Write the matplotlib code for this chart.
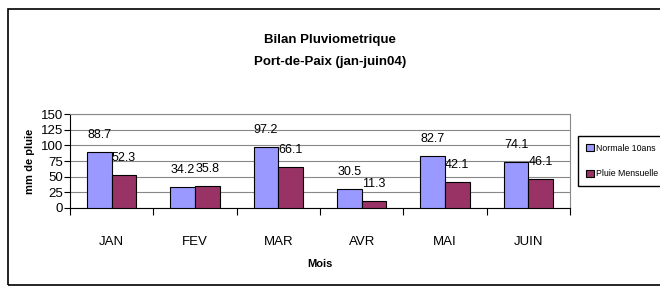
import numpy as np
import matplotlib
matplotlib.use("Agg")
import matplotlib.pyplot as plt
from matplotlib.patches import Rectangle

months = ['JAN', 'FEV', 'MAR', 'AVR', 'MAI', 'JUIN']
normale = [88.7, 34.2, 97.2, 30.5, 82.7, 74.1]
pluie = [52.3, 35.8, 66.1, 11.3, 42.1, 46.1]
series_names = ['Normale 10ans', 'Pluie Mensuelle']
yticks = [0, 25, 50, 75, 100, 125, 150]


def main():
    plt.rcParams['font.family'] = ['Liberation Sans', 'DejaVu Sans']

    fig = plt.figure(figsize=(6.6, 2.87), dpi=100)
    W, H = 660, 287

    # outer chart border
    fig.patches.append(Rectangle((8 / W, 1 - 285 / H), 700 / W, 276 / H,
                                 transform=fig.transFigure, fill=False,
                                 edgecolor='black', linewidth=1.2))

    ax = fig.add_axes([70 / W, 1 - 208 / H, 500 / W, 94 / H])

    x = np.arange(len(months)) + 0.5
    w = 0.295
    b1 = ax.bar(x - w / 2, normale, w, color='#9999FF', edgecolor='black',
                linewidth=0.8, label=series_names[0], zorder=3)
    b2 = ax.bar(x + w / 2, pluie, w, color='#993366', edgecolor='black',
                linewidth=0.8, label=series_names[1], zorder=3)

    for bars, vals in [(b1, normale), (b2, pluie)]:
        for r, v in zip(bars, vals):
            ax.annotate(str(v), (r.get_x() + r.get_width() / 2, v),
                        xytext=(0, 17), textcoords='offset pixels',
                        ha='center', va='center', fontsize=9)

    ax.set_xlim(0, len(months))
    ax.set_ylim(0, 150)
    ax.set_yticks(yticks)
    ax.tick_params(axis='y', labelsize=9.5, length=4, pad=1)
    ax.yaxis.grid(True, color='#888888', linewidth=0.8, zorder=0)

    ax.set_xticks(np.arange(len(months) + 1))
    ax.set_xticklabels([])
    ax.set_xticks(x, minor=True)
    ax.set_xticklabels(months, minor=True)
    ax.tick_params(axis='x', which='major', length=5, direction='out')
    ax.tick_params(axis='x', which='minor', length=0, pad=20, labelsize=9.5)

    ax.spines['top'].set_color('#888888')
    ax.spines['right'].set_color('#888888')

    ax.set_ylabel('mm de pluie', fontsize=8, fontweight='bold', labelpad=4)
    ax.set_xlabel('Mois', fontsize=8, fontweight='bold', labelpad=8)

    fig.text(330 / W, 1 - 40 / H, 'Bilan Pluviometrique', ha='center',
             va='center', fontsize=9.5, fontweight='bold')
    fig.text(330 / W, 1 - 62 / H, 'Port-de-Paix (jan-juin04)', ha='center',
             va='center', fontsize=9.5, fontweight='bold')

    fig.legend(handles=[b1, b2], loc='upper left',
               bbox_to_anchor=(578 / W, 1 - 136 / H), fontsize=6.3,
               frameon=True, fancybox=False, edgecolor='black',
               framealpha=1, handlelength=0.9, handleheight=0.9,
               handletextpad=0.25, borderpad=0.9, labelspacing=1.9,
               borderaxespad=0)

    fig.savefig('out.png', dpi=100)


if __name__ == "__main__":
    main()
